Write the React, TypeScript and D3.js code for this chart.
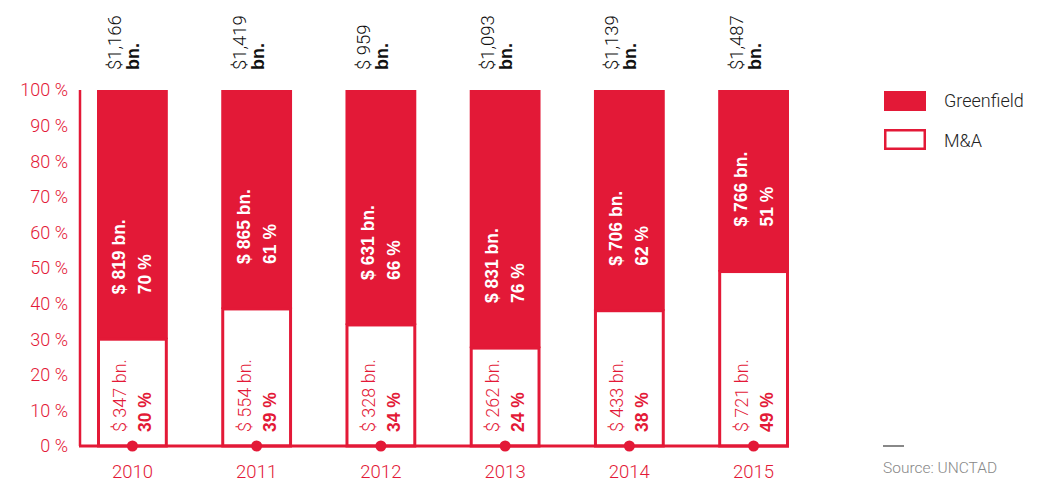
import React from "react";
import * as d3 from "d3";

const years = ["2010", "2011", "2012", "2013", "2014", "2015"];
const totals = ["$1,166", "$1,419", "$ 959", "$1,093", "$1,139", "$1,487"];
const greenfieldBn = [819, 865, 631, 831, 706, 766];
const greenfieldPct = [70, 61, 66, 76, 62, 51];
const maBn = [347, 554, 328, 262, 433, 721];
const maPct = [30, 39, 34, 24, 38, 49];
// M&A share as drawn in the picture (bar heights)
const maBarPct = [30, 38.5, 34, 27.5, 38, 49];
const yTicks = [0, 10, 20, 30, 40, 50, 60, 70, 80, 90, 100];

const RED = "#e31937";
const FONT = "'Liberation Sans', Arial, Helvetica, sans-serif";
const LIGHT = "Roboto, 'Liberation Sans', Arial, sans-serif";

export default function App() {
  const W = 1044;
  const H = 483;
  const x = d3.scaleBand<string>().domain(years).range([97, 789]).paddingInner(0.43).paddingOuter(0);
  const y = d3.scaleLinear().domain([0, 100]).range([446, 90]);
  const bw = x.bandwidth();

  return (
    <svg width={W} height={H} style={{ position: "absolute", left: 0, top: 0, fontFamily: FONT }}>
      <rect width={W} height={H} fill="#fff" />
      {/* y axis */}
      <line x1={80} x2={80} y1={y(100)} y2={y(0)} stroke={RED} strokeWidth={2.5} />
      {yTicks.map((t) => (
        <text key={t} x={68} y={y(t)} dy="0.36em" textAnchor="end" fill={RED} fontSize={18} fontFamily={LIGHT} fontWeight={300}>
          {t} %
        </text>
      ))}
      {years.map((yr, i) => {
        const x0 = x(yr)!;
        const cx = x0 + bw / 2;
        const yMa = y(maBarPct[i]);
        const gfTextStart = yMa - 45;
        const maTextStart = y(0) - 14;
        return (
          <g key={yr}>
            <rect x={x0} y={y(100)} width={bw} height={yMa - y(100)} fill={RED} />
            <rect x={x0 + 1.5} y={yMa} width={bw - 3} height={y(0) - yMa} fill="#fff" stroke={RED} strokeWidth={3} />
            {/* greenfield labels */}
            <g transform={`translate(${cx},${gfTextStart}) rotate(-90)`}>
              <text x={0} y={-7} fill="#fff" fontSize={17.5} fontWeight="bold">
                $ {greenfieldBn[i]} bn.
              </text>
              <text x={0} y={19} fill="#fff" fontSize={17.5} fontWeight="bold">
                {greenfieldPct[i]} %
              </text>
            </g>
            {/* M&A labels */}
            <g transform={`translate(${cx},${maTextStart}) rotate(-90)`}>
              <text x={0} y={-6} fill={RED} fontSize={18} fontFamily={LIGHT} fontWeight={300}>
                $ {maBn[i]} bn.
              </text>
              <text x={0} y={19} fill={RED} fontSize={17.5} fontWeight="bold">
                {maPct[i]} %
              </text>
            </g>
            {/* totals */}
            <g transform={`translate(${cx},70) rotate(-90)`}>
              <text x={0} y={-11} fill="#111" fontSize={18.5} fontFamily={LIGHT} fontWeight={300}>
                {totals[i]}
              </text>
              <text x={0} y={7} fill="#111" fontSize={18} fontWeight="bold">
                bn.
              </text>
            </g>
            <text x={cx} y={478} textAnchor="middle" fill={RED} fontSize={18.5} fontFamily={LIGHT} fontWeight={300}>
              {yr}
            </text>
          </g>
        );
      })}
      {/* baseline */}
      <line x1={79} x2={789} y1={y(0)} y2={y(0)} stroke={RED} strokeWidth={3} />
      {years.map((yr) => (
        <circle key={yr} cx={x(yr)! + bw / 2} cy={y(0)} r={5.5} fill={RED} />
      ))}
      {/* legend */}
      <rect x={884} y={91} width={42} height={20} fill={RED} />
      <text x={944} y={107} fontSize={18} fill="#222" fontFamily={LIGHT} fontWeight={300}>Greenfield</text>
      <rect x={885.25} y={130.25} width={39.5} height={18.5} fill="#fff" stroke={RED} strokeWidth={2.5} />
      <text x={944} y={147} fontSize={18} fill="#222" fontFamily={LIGHT} fontWeight={300}>M&amp;A</text>
      {/* source */}
      <line x1={883} x2={904} y1={446} y2={446} stroke="#888" strokeWidth={2} />
      <text x={883} y={473} fontSize={15.5} fill="#888" fontFamily={LIGHT} fontWeight={300}>Source: UNCTAD</text>
    </svg>
  );
}
